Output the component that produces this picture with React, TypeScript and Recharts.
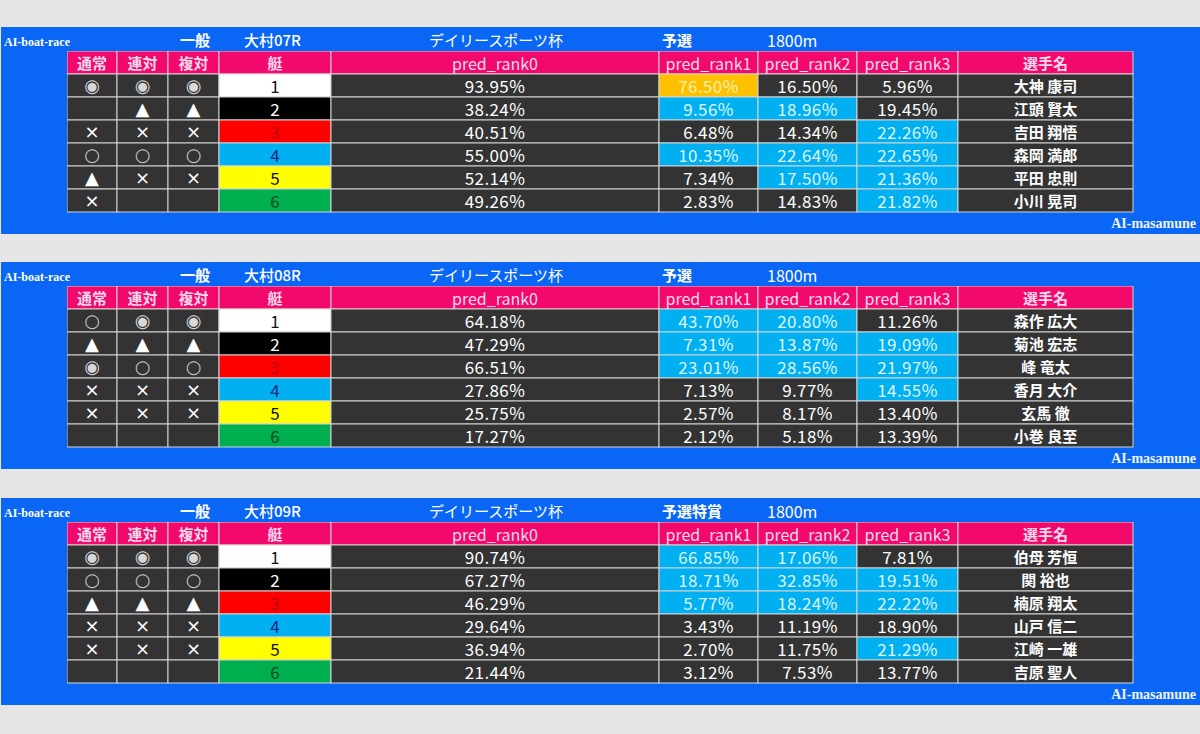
import { Bar, BarChart, XAxis, YAxis } from "recharts";

// race header info, one entry per panel
const RACE_GRADES = ["一般", "一般", "一般"];
const RACE_NAMES = ["大村07R", "大村08R", "大村09R"];
const RACE_TITLES = ["デイリースポーツ杯", "デイリースポーツ杯", "デイリースポーツ杯"];
const RACE_STAGES = ["予選", "予選", "予選特賞"];
const RACE_DISTANCES = ["1800m", "1800m", "1800m"];

const HEADERS = ["通常", "連対", "複対", "艇", "pred_rank0", "pred_rank1", "pred_rank2", "pred_rank3", "選手名"];
const BOATS = ["1", "2", "3", "4", "5", "6"];

const MARK_NORMAL = [
	["◉", "", "×", "○", "▲", "×"],
	["○", "▲", "◉", "×", "×", ""],
	["◉", "○", "▲", "×", "×", ""],
];
const MARK_RENTAI = [
	["◉", "▲", "×", "○", "×", ""],
	["◉", "▲", "○", "×", "×", ""],
	["◉", "○", "▲", "×", "×", ""],
];
const MARK_FUKUTAI = [
	["◉", "▲", "×", "○", "×", ""],
	["◉", "▲", "○", "×", "×", ""],
	["◉", "○", "▲", "×", "×", ""],
];

const RANK0 = [
	[93.95, 38.24, 40.51, 55.0, 52.14, 49.26],
	[64.18, 47.29, 66.51, 27.86, 25.75, 17.27],
	[90.74, 67.27, 46.29, 29.64, 36.94, 21.44],
];
const RANK1 = [
	[76.5, 9.56, 6.48, 10.35, 7.34, 2.83],
	[43.7, 7.31, 23.01, 7.13, 2.57, 2.12],
	[66.85, 18.71, 5.77, 3.43, 2.7, 3.12],
];
const RANK2 = [
	[16.5, 18.96, 14.34, 22.64, 17.5, 14.83],
	[20.8, 13.87, 28.56, 9.77, 8.17, 5.18],
	[17.06, 32.85, 18.24, 11.19, 11.75, 7.53],
];
const RANK3 = [
	[5.96, 19.45, 22.26, 22.65, 21.36, 21.82],
	[11.26, 19.09, 21.97, 14.55, 13.4, 13.39],
	[7.81, 19.51, 22.22, 18.9, 21.29, 13.77],
];

// "top" = orange pick, "hit" = blue pick, "" = plain
const RANK1_PICK = [
	["top", "hit", "", "hit", "", ""],
	["hit", "hit", "hit", "", "", ""],
	["hit", "hit", "hit", "", "", ""],
];
const RANK2_PICK = [
	["", "hit", "", "hit", "hit", ""],
	["hit", "hit", "hit", "", "", ""],
	["hit", "hit", "hit", "", "", ""],
];
const RANK3_PICK = [
	["", "", "hit", "hit", "hit", "hit"],
	["", "hit", "hit", "hit", "", ""],
	["", "hit", "hit", "", "hit", ""],
];

const RACERS = [
	["大神 康司", "江頭 賢太", "吉田 翔悟", "森岡 満郎", "平田 忠則", "小川 晃司"],
	["森作 広大", "菊池 宏志", "峰 竜太", "香月 大介", "玄馬 徹", "小巻 良至"],
	["伯母 芳恒", "関 裕也", "楠原 翔太", "山戸 信二", "江崎 一雄", "吉原 聖人"],
];

// layout
const COL_W = [50, 51, 51, 112, 328, 99, 99, 101, 175];
const TABLE_W = COL_W.reduce((a, b) => a + b, 0);
const ROW_H = 23;
const PANEL_TOP = [27, 262, 498];
const PANEL_H = 207;

const BG = "#e6e6e6";
const BLUE = "#0a66f5";
const PINK = "#f3086b";
const DARK = "#333333";
const HIT = "#00b0f0";
const TOP = "#ffc000";
const BOAT_FILL = ["#ffffff", "#000000", "#ff0000", "#00b0f0", "#ffff00", "#00b050"];
const BOAT_TEXT = ["#111111", "#ffffff", "#c00000", "#0a2a80", "#111111", "#0a4a1a"];
const JP = "'Noto Sans CJK JP', 'Noto Sans', sans-serif";
const SERIF = "'Liberation Serif', 'DejaVu Serif', serif";

const pct = (v: number) => v.toFixed(2) + "%";

const buildRows = (p: number) => {
	const rows: any[] = [];
	const head: any = { row: "h" };
	HEADERS.forEach((h, c) => {
		head["c" + c] = COL_W[c];
		head["t" + c] = h;
		head["f" + c] = PINK;
		head["k" + c] = "#ffd9ec";
	});
	rows.push(head);
	for (let i = 0; i < 6; i++) {
		const picks = [RANK1_PICK[p][i], RANK2_PICK[p][i], RANK3_PICK[p][i]];
		const texts = [
			MARK_NORMAL[p][i],
			MARK_RENTAI[p][i],
			MARK_FUKUTAI[p][i],
			BOATS[i],
			pct(RANK0[p][i]),
			pct(RANK1[p][i]),
			pct(RANK2[p][i]),
			pct(RANK3[p][i]),
			RACERS[p][i],
		];
		const r: any = { row: String(i + 1) };
		texts.forEach((t, c) => {
			r["c" + c] = COL_W[c];
			r["t" + c] = t;
			let fill = DARK;
			let color = "#ffffff";
			if (c === 3) {
				fill = BOAT_FILL[i];
				color = BOAT_TEXT[i];
			} else if (c >= 5 && c <= 7) {
				const pk = picks[c - 5];
				if (pk === "hit") {
					fill = HIT;
					color = "#dff6ff";
				} else if (pk === "top") {
					fill = TOP;
					color = "#fff0b0";
				}
			}
			if (c <= 2 && t === "◉") color = "#d8d8d8";
			if (c <= 2 && t === "○") color = "#c8c8c8";
			r["f" + c] = fill;
			r["k" + c] = color;
		});
		rows.push(r);
	}
	return rows;
};

const CellShape = (props: any, c: number) => {
	const { x, y, width, height, payload } = props;
	const isHead = payload.row === "h";
	const text = payload["t" + c];
	const isMark = c <= 2 && !isHead;
	const latinHead = isHead && c >= 4 && c <= 7;
	let size = 17;
	if (isHead) size = latinHead ? 16 : 15;
	else if (isMark) size = 18;
	else if (c === 8) size = 15;
	return (
		<g>
			<rect x={x} y={y} width={width} height={height} fill={payload["f" + c]} stroke="#d4d4d4" strokeWidth={1} />
			<text
				x={x + width / 2}
				y={y + height / 2}
				textAnchor="middle"
				dominantBaseline="central"
				fill={payload["k" + c]}
				fontFamily={isMark ? "'DejaVu Sans', sans-serif" : JP}
				fontSize={size}
				fontWeight={(isHead && !latinHead) || c === 8 ? 700 : 400}
				letterSpacing={!isHead && c >= 4 && c <= 7 ? 0.4 : 0}
			>
				{text}
			</text>
		</g>
	);
};

const Panel = ({ p }: { p: number }) => {
	const rows = buildRows(p);
	const titleStyle = {
		position: "absolute" as const,
		top: 4,
		color: "#ffffff",
		fontFamily: JP,
		fontSize: 15,
		fontWeight: 700,
		lineHeight: "18px",
		whiteSpace: "nowrap" as const,
	};
	return (
		<div style={{ position: "absolute", left: 1, top: PANEL_TOP[p], width: 1199, height: PANEL_H, background: BLUE }}>
			<div style={{ ...titleStyle, left: 3, fontFamily: SERIF, fontSize: 12, top: 6 }}>AI-boat-race</div>
			<div style={{ ...titleStyle, left: 179 }}>{RACE_GRADES[p]}</div>
			<div style={{ ...titleStyle, left: 243, fontWeight: 500 }}>{RACE_NAMES[p]}</div>
			<div style={{ ...titleStyle, left: 428, fontWeight: 400 }}>{RACE_TITLES[p]}</div>
			<div style={{ ...titleStyle, left: 661 }}>{RACE_STAGES[p]}</div>
			<div style={{ ...titleStyle, left: 766, fontWeight: 400, fontSize: 16 }}>{RACE_DISTANCES[p]}</div>
			<div style={{ position: "absolute", left: 66, top: 24 }}>
				<BarChart
					width={TABLE_W + 2}
					height={ROW_H * 7 + 4}
					data={rows}
					layout="vertical"
					margin={{ top: 0, right: 2, bottom: 4, left: 0 }}
					barCategoryGap={0}
					barGap={0}
					style={{ overflow: "visible" }}
				>
					<XAxis type="number" hide domain={[0, TABLE_W]} />
					<YAxis type="category" dataKey="row" hide />
					{COL_W.map((_, c) => (
						<Bar
							key={c}
							dataKey={"c" + c}
							stackId="t"
							isAnimationActive={false}
							shape={(props: any) => CellShape(props, c)}
						/>
					))}
				</BarChart>
			</div>
			<div
				style={{
					position: "absolute",
					right: 4,
					top: 188,
					color: "#eef4ff",
					fontFamily: SERIF,
					fontWeight: 700,
					fontSize: 14,
					lineHeight: "18px",
				}}
			>
				AI-masamune
			</div>
		</div>
	);
};

export default function App() {
	return (
		<div style={{ position: "absolute", left: 0, top: 0, width: 1200, height: 734, background: BG, overflow: "hidden" }}>
			{PANEL_TOP.map((_, p) => (
				<Panel key={p} p={p} />
			))}
		</div>
	);
}
